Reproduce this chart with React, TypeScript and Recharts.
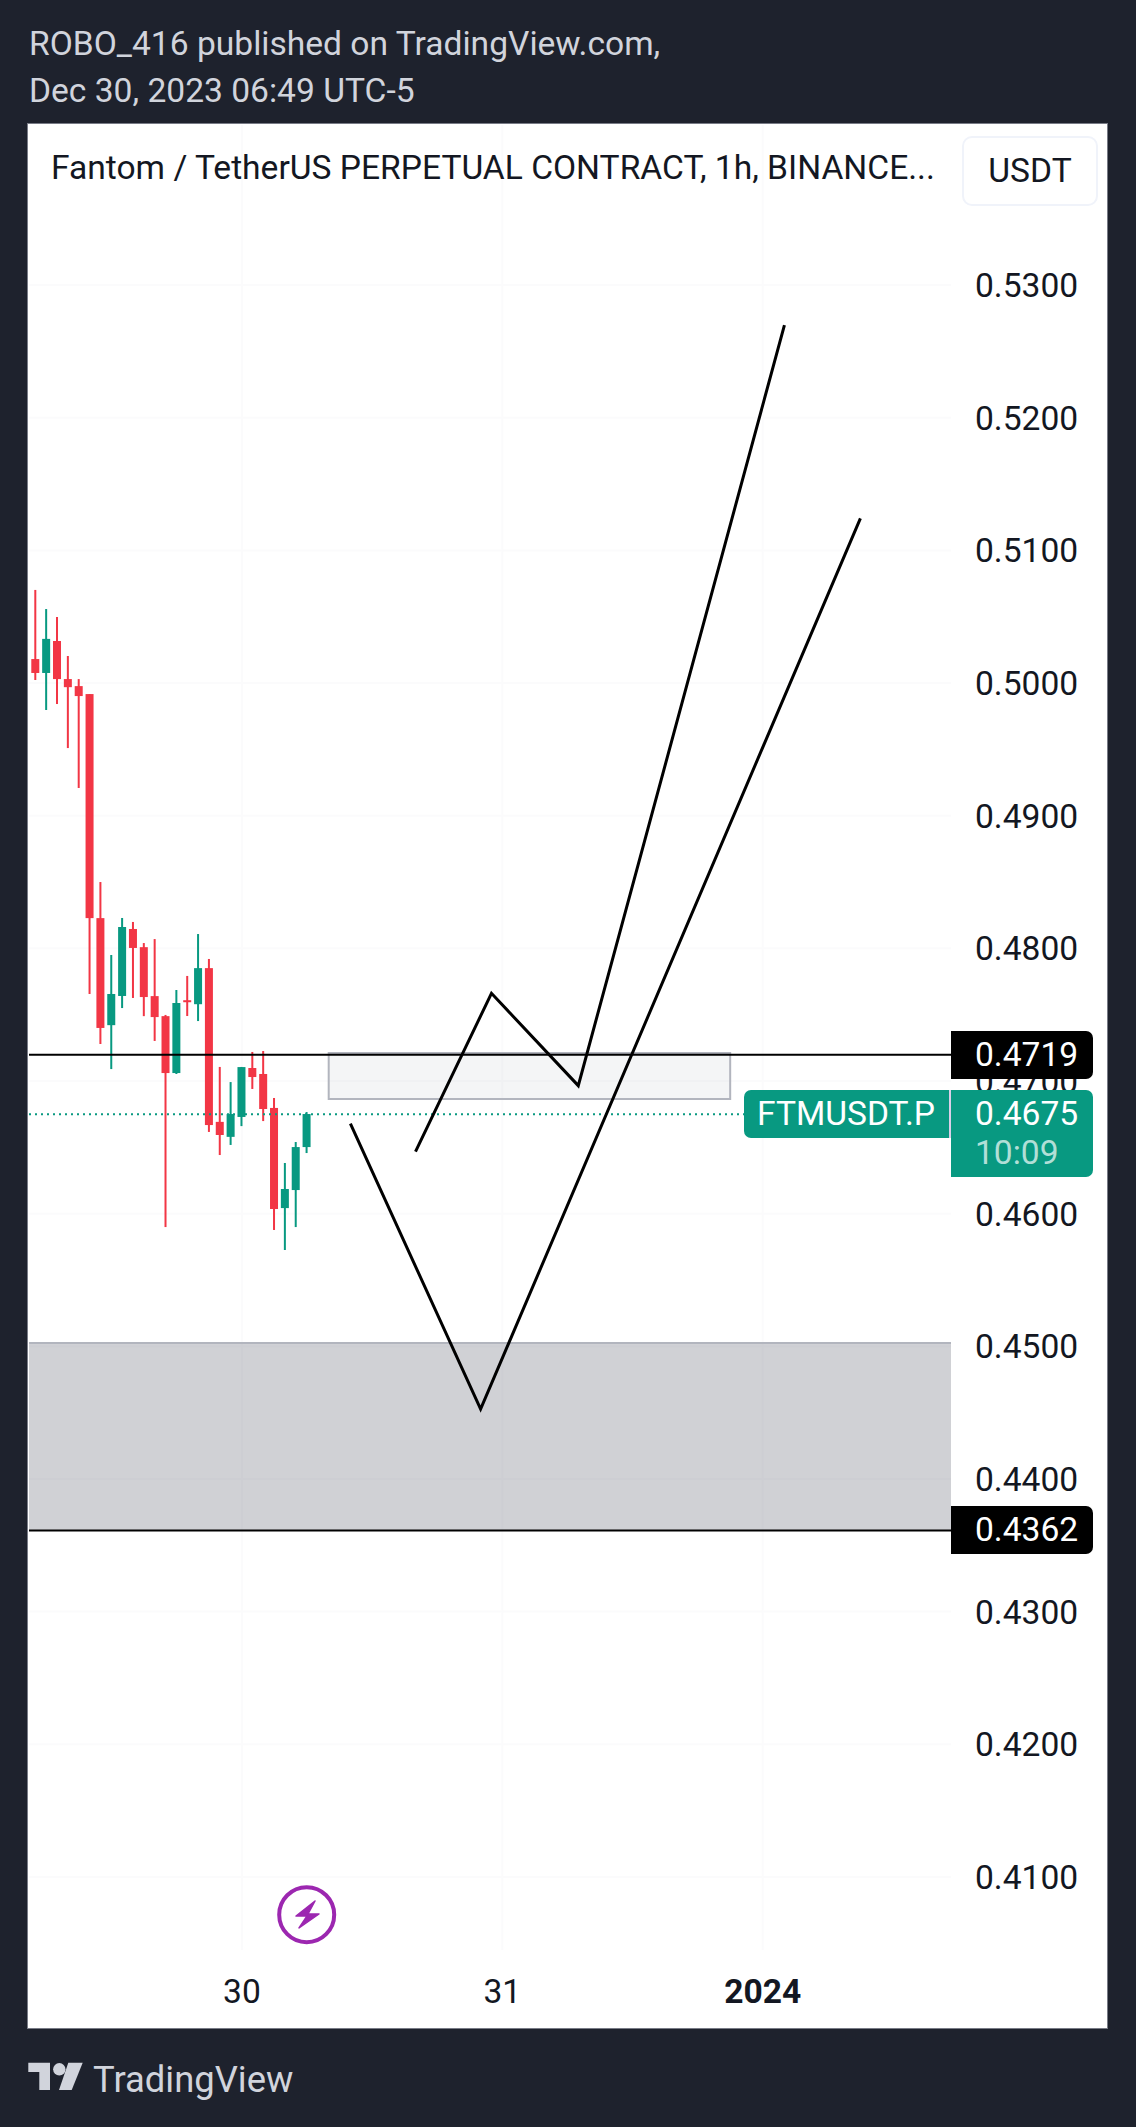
import React from 'react';
import { ComposedChart, Bar, Line, XAxis, YAxis, CartesianGrid, ReferenceArea, ReferenceLine } from 'recharts';

const hours = [-1, 0, 1, 2, 3, 4, 5, 6, 7, 8, 9, 10, 11, 12, 13, 14, 15, 16, 17, 18, 19, 20, 21, 22, 23, 24, 25];
const opens = [0.49864, 0.50181, 0.50076, 0.50317, 0.50030, 0.49977, 0.49917, 0.48228, 0.47421, 0.47641, 0.48146, 0.48009, 0.47640, 0.47489, 0.47060, 0.47609, 0.47579, 0.47851, 0.46692, 0.46579, 0.46729, 0.47098, 0.47053, 0.46797, 0.46042, 0.46178, 0.46502];
const closes = [0.50181, 0.50076, 0.50333, 0.50030, 0.49969, 0.49902, 0.48228, 0.47400, 0.47656, 0.48161, 0.48003, 0.47633, 0.47482, 0.47060, 0.47588, 0.47595, 0.47851, 0.46668, 0.46593, 0.46751, 0.47105, 0.47030, 0.46789, 0.46035, 0.46186, 0.46502, 0.46751];
const highs = [0.50306, 0.50702, 0.50558, 0.50498, 0.50204, 0.50030, 0.49917, 0.48500, 0.47950, 0.48229, 0.48199, 0.48040, 0.48070, 0.47498, 0.47686, 0.47792, 0.48108, 0.47920, 0.47106, 0.46992, 0.47106, 0.47219, 0.47226, 0.46872, 0.46382, 0.46540, 0.46766];
const lows = [0.49705, 0.50023, 0.49797, 0.49842, 0.49510, 0.49209, 0.47656, 0.47279, 0.47090, 0.47550, 0.47626, 0.47489, 0.47302, 0.45899, 0.47053, 0.47490, 0.47452, 0.46616, 0.46442, 0.46518, 0.46660, 0.46940, 0.46698, 0.45877, 0.45726, 0.45899, 0.46457];

const priceTicks = [0.41, 0.42, 0.43, 0.44, 0.45, 0.46, 0.47, 0.48, 0.49, 0.5, 0.51, 0.52, 0.53];
const timeTicks = [19, 43, 67];
const timeLabels: Record<number, string> = { 19: '30', 43: '31', 67: '2024' };

const pathOne = [
  { x: 35, p: 0.46467 },
  { x: 42, p: 0.47661 },
  { x: 50, p: 0.46965 },
  { x: 69, p: 0.52699 },
];
const pathTwo = [
  { x: 29, p: 0.46678 },
  { x: 41, p: 0.44527 },
  { x: 76, p: 0.51242 },
];

const resistanceLevel = 0.47198;
const supportLevel = 0.43612;
const lastPrice = 0.4675;
const demandTop = 0.45025;
const boxTop = 0.47212;
const boxBottom = 0.46865;
const boxStart = 27;
const boxEnd = 64;
const lastLineEnd = 65.27;
const xMin = -0.62;
const xMax = 84.35;

const UP = '#089981';
const DOWN = '#f23645';
const FONT = 'Roboto, sans-serif';
const TEXT_SIZE = 33.6;

const rows = hours.map((x, i) => ({
  x,
  open: opens[i],
  close: closes[i],
  high: highs[i],
  low: lows[i],
  range: [lows[i], highs[i]],
}));

const Candle = (props: any) => {
  const { x, y, width, height, payload } = props;
  if (height == null || !payload) return null;
  const cx = x + width / 2;
  const per = height / (payload.high - payload.low);
  const yOf = (p: number) => y + (payload.high - p) * per;
  const up = payload.close >= payload.open;
  const color = up ? UP : DOWN;
  const top = yOf(Math.max(payload.open, payload.close));
  const bot = yOf(Math.min(payload.open, payload.close));
  return (
    <g>
      <rect x={cx - 1} y={y} width={2} height={height} fill={color} />
      <rect x={cx - 4} y={top} width={8} height={Math.max(bot - top, 2)} fill={color} />
    </g>
  );
};

const TimeTick = (props: any) => {
  const { x, y, payload } = props;
  const bold = payload.value === 67;
  return (
    <text x={x} y={y} textAnchor="middle" dominantBaseline="central" fontFamily={FONT} fontSize={TEXT_SIZE} fontWeight={bold ? 700 : 400} fill="#131722">
      {timeLabels[payload.value]}
    </text>
  );
};

const abs = (s: React.CSSProperties): React.CSSProperties => ({ position: 'absolute', fontFamily: FONT, whiteSpace: 'nowrap', ...s });

const PriceTag = ({ top, height, bg, children }: any) => (
  <div style={abs({ left: 951, top, width: 142, height, background: bg, borderRadius: '0 7px 7px 0', color: '#fff', fontSize: TEXT_SIZE })}>{children}</div>
);

export default function App() {
  return (
    <div style={{ position: 'absolute', left: 0, top: 0, width: 1136, height: 2127, background: '#1e222d', overflow: 'hidden' }}>
      <div style={abs({ left: 29, top: 24, fontSize: TEXT_SIZE, lineHeight: '40px', color: '#d1d4dc' })}>ROBO_416 published on TradingView.com,</div>
      <div style={abs({ left: 29, top: 71, fontSize: TEXT_SIZE, lineHeight: '40px', color: '#d1d4dc' })}>Dec 30, 2023 06:49 UTC-5</div>

      <div style={{ position: 'absolute', left: 28, top: 124, width: 1079, height: 1904, background: '#fff', outline: '1px solid #787b86' }} />

      <div style={{ position: 'absolute', left: 0, top: 0 }}>
        <ComposedChart
          width={1136}
          height={2127}
          data={rows}
          margin={{ top: 125, right: 29, bottom: 99, left: 29 }}
          barSize={8}
        >
          <CartesianGrid stroke="#fbfbfc" strokeWidth={2} horizontalValues={priceTicks} verticalValues={timeTicks} />
          <XAxis
            dataKey="x"
            type="number"
            domain={[xMin, xMax]}
            allowDataOverflow
            ticks={timeTicks}
            height={78}
            axisLine={false}
            tickLine={false}
            tickSize={0}
            tickMargin={41}
            interval={0}
            tick={<TimeTick />}
          />
          <YAxis
            orientation="right"
            type="number"
            domain={[0.40449, 0.54207]}
            allowDataOverflow
            ticks={priceTicks}
            width={156}
            axisLine={false}
            tickLine={false}
            tickSize={0}
            tickMargin={24}
            interval={0}
            tickFormatter={(v: number) => v.toFixed(4)}
            tick={{ fontFamily: FONT, fontSize: TEXT_SIZE, fill: '#131722', textAnchor: 'start' }}
          />
          <ReferenceArea x1={xMin} x2={xMax} y1={supportLevel} y2={demandTop} fill="#787b86" fillOpacity={0.35} stroke="none" ifOverflow="hidden" />
          <ReferenceLine y={demandTop} stroke="#b2b5be" strokeWidth={2} />
          <ReferenceArea x1={boxStart} x2={boxEnd} y1={boxBottom} y2={boxTop} fill="#787b86" fillOpacity={0.08} stroke="#b2b5be" strokeWidth={2} />
          <ReferenceLine y={resistanceLevel} stroke="#000" strokeWidth={2} />
          <ReferenceLine y={supportLevel} stroke="#000" strokeWidth={2} />
          <ReferenceLine segment={[{ x: xMin, y: lastPrice }, { x: lastLineEnd, y: lastPrice }]} stroke={UP} strokeWidth={2} strokeDasharray="2 4" />
          <Bar dataKey="range" shape={<Candle />} isAnimationActive={false} />
          <Line data={pathOne} dataKey="p" type="linear" stroke="#000" strokeWidth={3} dot={false} activeDot={false} isAnimationActive={false} />
          <Line data={pathTwo} dataKey="p" type="linear" stroke="#000" strokeWidth={3} dot={false} activeDot={false} isAnimationActive={false} />
        </ComposedChart>
      </div>

      <div style={abs({ left: 51, top: 148, fontSize: TEXT_SIZE, lineHeight: '40px', color: '#131722' })}>Fantom / TetherUS PERPETUAL CONTRACT, 1h, BINANCE...</div>
      <div style={abs({ left: 962, top: 136, width: 136, height: 70, boxSizing: 'border-box', border: '2px solid #f0f3fa', borderRadius: 10, background: '#fff', color: '#131722', fontSize: TEXT_SIZE, lineHeight: '66px', textAlign: 'center' })}>USDT</div>

      <PriceTag top={1031} height={48} bg="#000"><span style={{ position: 'absolute', left: 24, lineHeight: '48px' }}>0.4719</span></PriceTag>
      <PriceTag top={1506} height={48} bg="#000"><span style={{ position: 'absolute', left: 24, lineHeight: '48px' }}>0.4362</span></PriceTag>
      <PriceTag top={1090} height={87} bg={UP}>
        <span style={{ position: 'absolute', left: 24, top: 4, lineHeight: '40px' }}>0.4675</span>
        <span style={{ position: 'absolute', left: 24, top: 43, lineHeight: '40px', color: 'rgba(255,255,255,0.7)' }}>10:09</span>
      </PriceTag>
      <div style={abs({ left: 744, top: 1090, width: 205, height: 48, background: UP, borderRadius: '7px 0 0 7px', color: '#fff', fontSize: TEXT_SIZE, lineHeight: '48px', paddingLeft: 13, boxSizing: 'border-box' })}>FTMUSDT.P</div>
      <div style={{ position: 'absolute', left: 949, top: 1090, width: 2, height: 48, background: '#d9cfe8' }} />

      <svg style={{ position: 'absolute', left: 0, top: 0 }} width={1136} height={2127}>
        <circle cx={306.7} cy={1914.7} r={27.5} fill="#fff" stroke="#9c27b0" strokeWidth={4} />
        <path d="M315 1901 L296 1916 L307 1916 L299 1928 L319 1914 L308 1914 Z" fill="#9c27b0" stroke="#9c27b0" strokeWidth={1.5} strokeLinejoin="round" />
        <path d="M28.3 2062.7 H50 V2090 H39.3 V2072 H28.3 Z" fill="#d1d4dc" />
        <circle cx={59.3} cy={2069.3} r={6.2} fill="#d1d4dc" />
        <path d="M68.3 2062.7 H82.7 L71.7 2090 H59 Z" fill="#d1d4dc" />
      </svg>
      <div style={abs({ left: 93, top: 2059, fontSize: 36.4, lineHeight: '42px', color: '#d1d4dc' })}>TradingView</div>
    </div>
  );
}
